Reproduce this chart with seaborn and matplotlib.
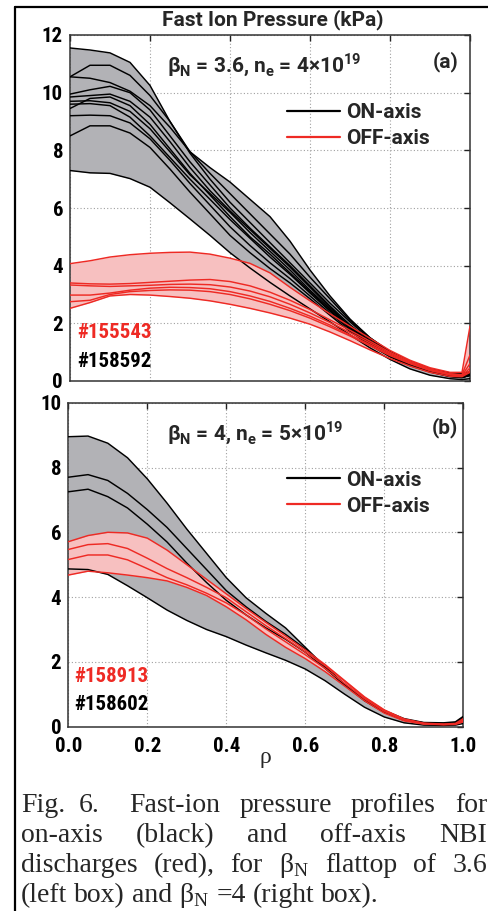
import matplotlib
matplotlib.use("Agg")
import matplotlib.pyplot as plt
import matplotlib.font_manager as fm
from matplotlib.lines import Line2D
import seaborn as sns

# ---------------------------------------------------------------- data
rho = [0.0, 0.05, 0.1, 0.15, 0.2, 0.25, 0.3, 0.35, 0.4, 0.45, 0.5,
       0.55, 0.6, 0.65, 0.7, 0.75, 0.8, 0.85, 0.9, 0.95, 0.98, 1.0]

# (a) beta_N = 3.6 : on-axis envelope and profiles (#158592)
a_on_hi = [11.55, 11.48, 11.38, 11.05, 10.25, 9.0, 7.95, 7.4, 6.9, 6.3, 5.7,
           4.85, 3.85, 2.95, 2.15, 1.5, 1.02, 0.68, 0.42, 0.28, 0.26, 0.32]
a_on_lo = [7.30, 7.22, 7.20, 7.02, 6.72, 6.18, 5.62, 5.05, 4.45, 3.92, 3.42,
           2.95, 2.50, 2.05, 1.60, 1.15, 0.75, 0.42, 0.20, 0.08, 0.05, 0.08]
a_on_1 = [10.55, 10.95, 10.95, 10.6, 9.9, 9.0, 7.9, 7.0, 6.2, 5.5, 4.8,
          4.1, 3.4, 2.7, 2.05, 1.45, 1.0, 0.65, 0.4, 0.22, 0.18, 0.25]
a_on_2 = [10.55, 10.5, 10.35, 10.05, 9.55, 8.8, 7.95, 7.2, 6.5, 5.8, 5.1,
          4.4, 3.6, 2.85, 2.1, 1.5, 1.0, 0.66, 0.4, 0.22, 0.18, 0.25]
a_on_3 = [9.95, 10.1, 10.22, 10.0, 9.4, 8.5, 7.6, 6.8, 6.0, 5.3, 4.65,
          4.0, 3.3, 2.6, 1.95, 1.4, 0.95, 0.62, 0.38, 0.2, 0.16, 0.22]
a_on_4 = [9.85, 9.9, 9.95, 9.7, 9.15, 8.3, 7.4, 6.6, 5.9, 5.25, 4.6,
          3.95, 3.25, 2.55, 1.9, 1.35, 0.92, 0.6, 0.36, 0.19, 0.15, 0.22]
a_on_5 = [9.70, 9.72, 9.65, 9.35, 8.75, 7.95, 7.15, 6.5, 5.85, 5.15, 4.5,
          3.85, 3.15, 2.5, 1.88, 1.33, 0.9, 0.58, 0.34, 0.18, 0.14, 0.2]
a_on_6 = [9.60, 9.62, 9.55, 9.15, 8.5, 7.75, 7.0, 6.3, 5.6, 4.95, 4.3,
          3.7, 3.05, 2.42, 1.82, 1.3, 0.88, 0.56, 0.33, 0.17, 0.13, 0.2]
a_on_7 = [9.45, 9.8, 9.85, 9.55, 8.9, 8.05, 7.2, 6.45, 5.7, 5.0, 4.4,
          3.75, 3.1, 2.45, 1.85, 1.32, 0.9, 0.58, 0.34, 0.17, 0.13, 0.2]
a_on_8 = [9.20, 9.22, 9.2, 8.95, 8.4, 7.65, 6.85, 6.1, 5.35, 4.7, 4.1,
          3.55, 2.95, 2.35, 1.78, 1.28, 0.86, 0.55, 0.32, 0.16, 0.12, 0.2]
a_on_9 = [8.50, 8.85, 8.85, 8.6, 8.1, 7.35, 6.55, 5.8, 5.05, 4.45, 3.9,
          3.4, 2.85, 2.28, 1.72, 1.24, 0.84, 0.53, 0.31, 0.15, 0.12, 0.2]

# (a) off-axis envelope and profiles (#155543)
a_off_hi = [4.07, 4.17, 4.30, 4.38, 4.43, 4.46, 4.47, 4.40, 4.26, 4.08, 3.75,
            3.25, 2.78, 2.33, 1.90, 1.48, 1.06, 0.72, 0.46, 0.30, 0.30, 1.90]
a_off_lo = [2.52, 2.72, 2.95, 3.00, 2.98, 2.93, 2.87, 2.78, 2.66, 2.52, 2.36,
            2.18, 1.97, 1.70, 1.40, 1.08, 0.78, 0.52, 0.30, 0.16, 0.15, 0.30]
a_off_1 = [3.40, 3.37, 3.36, 3.38, 3.42, 3.46, 3.50, 3.52, 3.45, 3.30, 3.08,
           2.80, 2.48, 2.12, 1.76, 1.38, 1.00, 0.68, 0.42, 0.25, 0.22, 0.90]
a_off_2 = [3.33, 3.30, 3.28, 3.30, 3.32, 3.35, 3.36, 3.34, 3.26, 3.12, 2.92,
           2.66, 2.36, 2.03, 1.68, 1.32, 0.96, 0.65, 0.40, 0.24, 0.20, 0.60]
a_off_3 = [2.98, 2.98, 3.05, 3.15, 3.22, 3.25, 3.24, 3.20, 3.10, 2.95, 2.76,
           2.52, 2.25, 1.94, 1.60, 1.26, 0.92, 0.62, 0.38, 0.22, 0.18, 0.45]
a_off_4 = [2.75, 2.80, 3.00, 3.10, 3.14, 3.16, 3.15, 3.10, 3.00, 2.85, 2.66,
           2.44, 2.18, 1.88, 1.56, 1.22, 0.88, 0.60, 0.36, 0.21, 0.18, 0.35]

# (b) beta_N = 4 : on-axis envelope and profiles (#158602)
b_on_hi = [8.95, 8.97, 8.75, 8.3, 7.65, 6.9, 6.1, 5.35, 4.6, 3.98, 3.5,
           3.05, 2.45, 1.85, 1.3, 0.85, 0.5, 0.25, 0.13, 0.12, 0.15, 0.32]
b_on_lo = [4.87, 4.85, 4.7, 4.35, 3.98, 3.6, 3.28, 3.0, 2.78, 2.52, 2.28,
           2.05, 1.78, 1.42, 1.0, 0.6, 0.3, 0.12, 0.05, 0.04, 0.05, 0.1]
b_on_1 = [7.70, 7.78, 7.6, 7.2, 6.7, 6.15, 5.5, 4.85, 4.2, 3.7, 3.25,
          2.85, 2.4, 1.85, 1.3, 0.82, 0.45, 0.22, 0.12, 0.1, 0.12, 0.3]
b_on_2 = [7.25, 7.33, 7.1, 6.75, 6.25, 5.7, 5.05, 4.45, 3.9, 3.45, 3.05,
          2.7, 2.3, 1.8, 1.28, 0.8, 0.44, 0.2, 0.1, 0.08, 0.1, 0.25]

# (b) off-axis envelope and profiles (#158913)
b_off_hi = [5.71, 5.9, 6.0, 5.98, 5.82, 5.45, 5.0, 4.55, 4.1, 3.65, 3.22,
            2.8, 2.37, 1.92, 1.42, 0.92, 0.52, 0.24, 0.11, 0.08, 0.1, 0.25]
b_off_lo = [4.68, 4.8, 4.75, 4.68, 4.6, 4.5, 4.3, 4.05, 3.7, 3.3, 2.85,
            2.45, 2.1, 1.7, 1.25, 0.8, 0.42, 0.18, 0.08, 0.06, 0.07, 0.15]
b_off_1 = [5.47, 5.62, 5.65, 5.5, 5.2, 4.88, 4.6, 4.3, 3.98, 3.55, 3.12,
           2.72, 2.3, 1.88, 1.4, 0.9, 0.5, 0.23, 0.1, 0.07, 0.09, 0.2]
b_off_2 = [5.16, 5.3, 5.3, 5.15, 4.88, 4.6, 4.38, 4.12, 3.82, 3.45, 3.02,
           2.62, 2.22, 1.8, 1.33, 0.86, 0.47, 0.21, 0.09, 0.07, 0.08, 0.18]

x_ticks = [0.0, 0.2, 0.4, 0.6, 0.8, 1.0]
x_tick_labels = ["0.0", "0.2", "0.4", "0.6", "0.8", "1.0"]
a_y_ticks = [0, 2, 4, 6, 8, 10, 12]
b_y_ticks = [0, 2, 4, 6, 8, 10]

# caption words, with the relative width of the space after each word
caption_lines = [
    (["Fig.", "6.", "Fast-ion", "pressure", "profiles", "for"], [0.7, 1.6, 1, 1, 1]),
    (["on-axis", "(black)", "and", "off-axis", "NBI"], [1, 1, 1, 1]),
    (["discharges", "(red),", "for", r"β$_\mathregular{N}$", "flattop", "of", "3.6"],
     [1, 1, 1, 1, 1, 1]),
    (["(left", "box)", "and", r"β$_\mathregular{N}$", "=4", "(right", "box)."], None),
]

# ---------------------------------------------------------------- style
sns.set_style("white")
available = {f.name for f in fm.fontManager.ttflist}
if "Roboto" in available and "Roboto Condensed" in available:
    WORD_FAMILY, WORD_FS = ["Roboto", "DejaVu Sans"], 15
    NUM_FAMILY, NUM_FS = ["Roboto Condensed", "DejaVu Sans"], 15
else:
    WORD_FAMILY, WORD_FS = ["Liberation Sans", "DejaVu Sans"], 13.5
    NUM_FAMILY, NUM_FS = ["Liberation Sans", "DejaVu Sans"], 13.5
plt.rcParams["font.family"] = WORD_FAMILY
plt.rcParams["font.weight"] = "bold"

ON_COLOR = "black"
OFF_COLOR = "#ee2a24"
ON_FILL = "#b2b2b6"
OFF_FILL = "#f7c0c0"
WORD_PX = WORD_FS * 100 / 72

W, H = 488, 911
fig = plt.figure(figsize=(W / 100, H / 100), dpi=100)


def px_axes(left, top, right, bottom):
    return fig.add_axes([left / W, 1 - bottom / H, (right - left) / W, (bottom - top) / H])


ax_a = px_axes(70, 35, 470, 381)
ax_b = px_axes(68.3, 402.7, 463.3, 726.7)


def draw_panel(ax, on_hi, on_lo, on_profiles, off_hi, off_lo, off_profiles):
    ax.fill_between(rho, on_lo, on_hi, color=ON_FILL, lw=0, zorder=1)
    ax.fill_between(rho, off_lo, off_hi, color=OFF_FILL, lw=0, zorder=2)
    for prof in [on_hi, on_lo] + on_profiles:
        sns.lineplot(x=rho, y=prof, ax=ax, color=ON_COLOR, linewidth=1.05, zorder=3)
    for prof in [off_hi, off_lo] + off_profiles:
        sns.lineplot(x=rho, y=prof, ax=ax, color=OFF_COLOR, linewidth=1.05, zorder=4)


draw_panel(ax_a, a_on_hi, a_on_lo,
           [a_on_1, a_on_2, a_on_3, a_on_4, a_on_5, a_on_6, a_on_7, a_on_8, a_on_9],
           a_off_hi, a_off_lo, [a_off_1, a_off_2, a_off_3, a_off_4])
draw_panel(ax_b, b_on_hi, b_on_lo, [b_on_1, b_on_2],
           b_off_hi, b_off_lo, [b_off_1, b_off_2])

num_kw = dict(fontsize=NUM_FS, fontweight="bold", family=NUM_FAMILY)
word_kw = dict(fontsize=WORD_FS, fontweight="bold", family=WORD_FAMILY)

for ax, yt in ((ax_a, a_y_ticks), (ax_b, b_y_ticks)):
    ax.set_xlim(0, 1)
    ax.set_ylim(yt[0], yt[-1])
    ax.set_xticks(x_ticks)
    ax.set_yticks(yt)
    ax.set_yticklabels([str(v) for v in yt], **num_kw)
    ax.grid(True, linestyle=(0, (1, 2)), color="#a0a0a0", linewidth=0.8, zorder=0)
    ax.set_axisbelow(True)
    ax.tick_params(direction="in", length=4, width=1, top=True, right=True,
                   pad=5, colors="#222222", labelcolor="black")
    for sp in ax.spines.values():
        sp.set_color("#333333")
        sp.set_linewidth(1.1)
    ax.set_xlabel("")
    ax.set_ylabel("")

ax_a.set_xticklabels([])
ax_b.set_xticklabels(x_tick_labels, **num_kw)
ax_b.tick_params(axis="x", pad=7.5)

# legends: rows centred at about y = 110 / 136 px (a) and 478 / 505 px (b)
handles = [Line2D([], [], color=ON_COLOR, lw=1.6), Line2D([], [], color=OFF_COLOR, lw=1.6)]
for ax, anchor in ((ax_a, (0.5425, 0.803)), (ax_b, (0.553, 0.790))):
    ax.legend(handles, ["ON-axis", "OFF-axis"], loc="upper left", bbox_to_anchor=anchor,
              frameon=False, borderpad=0, borderaxespad=0, handlelength=53 / WORD_PX,
              handletextpad=0.3, labelspacing=0.33,
              prop={"family": WORD_FAMILY, "size": WORD_FS, "weight": "bold"})

# panel annotations
ax_a.text(0.2425, 0.893, r"β$_\mathregular{N}$ = 3.6, n$_\mathregular{e}$ = 4×10$^\mathregular{19}$",
          transform=ax_a.transAxes, va="baseline", ha="left", **word_kw)
ax_b.text(0.25, 0.885, r"β$_\mathregular{N}$ = 4, n$_\mathregular{e}$ = 5×10$^\mathregular{19}$",
          transform=ax_b.transAxes, va="baseline", ha="left", **word_kw)
ax_a.text(0.97, 0.922, "(a)", transform=ax_a.transAxes, ha="right", va="center", **word_kw)
ax_b.text(0.987, 0.922, "(b)", transform=ax_b.transAxes, ha="right", va="center", **word_kw)
ax_a.text(0.0175, 0.139, "#155543", transform=ax_a.transAxes, color=OFF_COLOR,
          ha="left", va="center", **num_kw)
ax_a.text(0.0175, 0.055, "#158592", transform=ax_a.transAxes, color="black",
          ha="left", va="center", **num_kw)
ax_b.text(0.0144, 0.154, "#158913", transform=ax_b.transAxes, color=OFF_COLOR,
          ha="left", va="center", **num_kw)
ax_b.text(0.0144, 0.067, "#158602", transform=ax_b.transAxes, color="black",
          ha="left", va="center", **num_kw)

# title and x label
fig.text(273 / W, 1 - 20 / H, "Fast Ion Pressure (kPa)", ha="center", va="center", **word_kw)
fig.text(265 / W, 1 - 758 / H, "ρ", fontsize=17, fontweight="normal",
         family=["Liberation Serif", "DejaVu Serif"], ha="center", va="center")

# frame around the figure
fig.add_artist(Line2D([15 / W, 15 / W], [0, 1 - 7 / H], transform=fig.transFigure,
                      color="black", lw=1.6))
fig.add_artist(Line2D([15 / W, 1], [1 - 7 / H, 1 - 7 / H], transform=fig.transFigure,
                      color="black", lw=1.6))

# caption, justified except for the last line
renderer = fig.canvas.get_renderer()
cap_kw = dict(fontsize=20, fontweight="normal", family=["Liberation Serif", "DejaVu Serif"],
              va="baseline", ha="left")
baselines = [812, 842, 872, 902]
left_px, right_px = 21, 487
for (words, weights), yb in zip(caption_lines, baselines):
    texts = [fig.text(0, 0, w, **cap_kw) for w in words]
    widths = [t.get_window_extent(renderer).width for t in texts]
    if weights is not None:
        unit = (right_px - left_px - sum(widths)) / sum(weights)
        gaps = [unit * g for g in weights] + [0]
    else:
        gaps = [7.0] * len(words)
    x = left_px
    for t, w, g in zip(texts, widths, gaps):
        t.set_position((x / W, 1 - yb / H))
        x += w + g

fig.savefig("out.png", dpi=100)
